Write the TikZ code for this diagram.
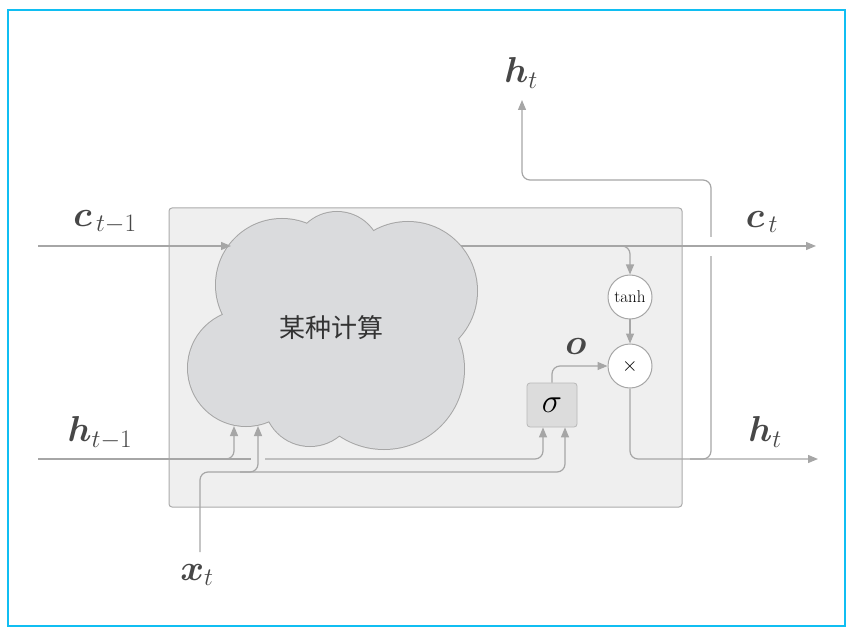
\RequirePackage{fix-cm}
\documentclass[tikz,border=0pt]{standalone}
\usepackage{amsmath}
\usepackage{fontspec}
\usepackage{bm}
\newfontfamily\cjk{Noto Sans CJK SC}
\usetikzlibrary{arrows.meta}
\definecolor{ln}{HTML}{A6A6A6}
\definecolor{boxbg}{HTML}{EFEFEF}
\definecolor{boxln}{HTML}{ABABAB}
\definecolor{cloudbg}{HTML}{DADBDD}
\definecolor{lbl}{HTML}{474747}
\definecolor{framec}{HTML}{10BEF2}
\definecolor{sigbg}{HTML}{DCDCDC}
\begin{document}
\begin{tikzpicture}[x=1pt,y=-1pt,
  line/.style={draw=ln, line width=1.2pt},
  arr/.style={line, -{Triangle[length=10pt,width=8pt]}, rounded corners=8pt},
  lab/.style={text=lbl, font=\fontsize{36}{40}\selectfont, inner sep=0pt},
  circ/.style={circle, draw=ln, fill=white, line width=1pt, minimum size=44pt, inner sep=0pt, text=black},
]
\useasboundingbox (0,0) rectangle (852,631);
\draw[framec, line width=1.5pt] (8,10) rectangle (845,626);
\draw[fill=boxbg, draw=boxln, line width=1pt, rounded corners=3pt] (169,208) rectangle (682,507);

% cloud as union of circles
\foreach \cx/\cy/\r in {282/285/66, 337/256/44, 408/291/69, 384/369/80, 310/400/46, 246/368/58}
  \draw[ln, line width=2pt] (\cx,\cy) circle[radius=\r pt];
\foreach \cx/\cy/\r in {282/285/66, 337/256/44, 408/291/69, 384/369/80, 310/400/46, 246/368/58}
  \fill[cloudbg] (\cx,\cy) circle[radius=\r pt];
\fill[cloudbg] (282,285) -- (337,256) -- (408,291) -- (384,369) -- (310,400) -- (246,368) -- cycle;
\fill[cloudbg] (330,330) circle[radius=60pt];
\node[text=black!80, font=\cjk\fontsize{26}{30}\selectfont] (calc) at (331,328) {某种计算};

% nodes
\node[circ, font=\fontsize{17}{20}\selectfont] (tanh) at (630,297) {tanh};
\node[circ, font=\fontsize{20}{24}\selectfont] (mul) at (630,366) {$\times$};
\node[draw=ln!80, fill=sigbg, rounded corners=3pt, minimum width=50pt, minimum height=44pt, line width=0.8pt, inner sep=0pt, font=\fontsize{34}{36}\selectfont] (sig) at (552,405) {$\sigma$};

% coordinates
\coordinate (cin) at (38,246);
\coordinate (cloudL) at (231,246);
\coordinate (cloudR) at (461,246);
\coordinate (cout) at (816,246);
\coordinate (cbr) at (600,246);
\coordinate (hin) at (38,459);
\coordinate (hcut1) at (251,459);
\coordinate (hcut2) at (265,459);
\coordinate (cloudB1) at (234,426);
\coordinate (cloudB2) at (258,426);
\coordinate (xin) at (200,552);
\coordinate (xmid) at (240,472);
\coordinate (hout) at (818,459);
\coordinate (hbr) at (690,459);
\coordinate (hturn) at (711,180);
\coordinate (htop) at (522,100);

% connectors
\draw[arr] (cin) -- (cloudL);
\draw[arr] (hbr) -| (hturn) -| (htop);
\fill[white] (704,237) rectangle (718,256);
\draw[arr] (cloudR) -- (cout);
\draw[arr] (cbr) -| (tanh.north);
\draw[arr] (tanh) -- (mul);
\draw[arr] (sig.north) |- (mul.west);
\draw[arr] (mul.south) |- (hout);
\draw[line] (hin) -- (hcut1);
\draw[arr] (hin) -| (cloudB1);
\draw[arr] (hcut2) -| ([xshift=-9pt]sig.south);
\draw[arr] (xin) |- (xmid) -| (cloudB2);
\draw[arr] (xmid) -| ([xshift=13pt]sig.south);

% labels
\node[lab] (lc1) at (105,222) {$\bm{c}_{\,t-1}$};
\node[lab] (lh1) at (100,433) {$\bm{h}_{t-1}$};
\node[lab] (lct) at (762,222) {$\bm{c}_{\,t}$};
\node[lab] (lht) at (765,432) {$\bm{h}_t$};
\node[lab] (lhtop) at (521,73) {$\bm{h}_t$};
\node[lab] (lx) at (197,575) {$\bm{x}_t$};
\node[lab] (lo) at (576,346) {$\bm{o}$};
\end{tikzpicture}
\end{document}
